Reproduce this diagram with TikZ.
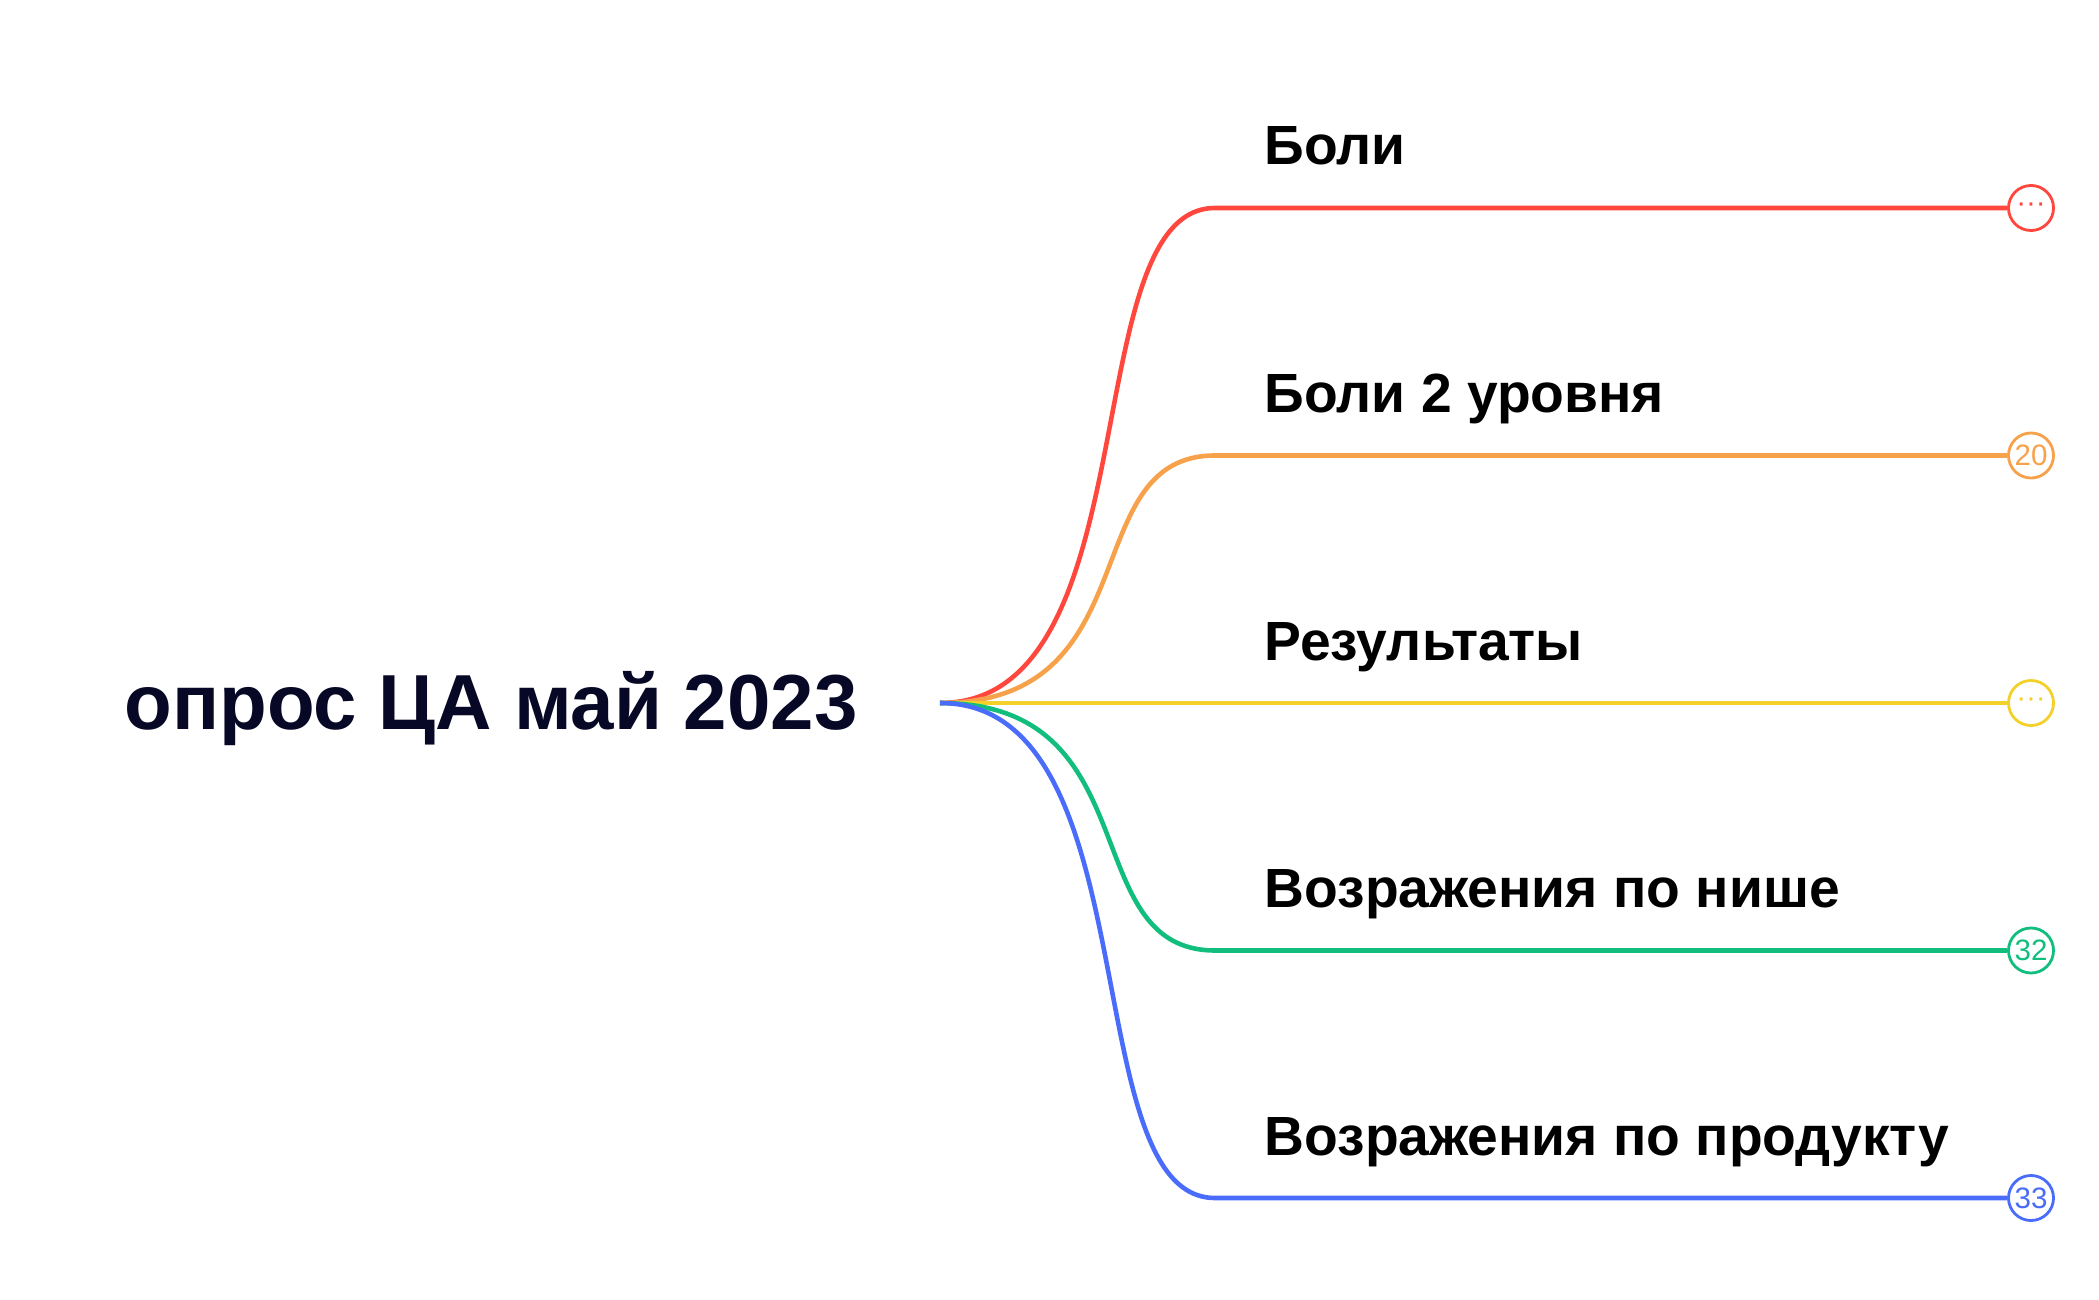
\documentclass[tikz,border=0pt]{standalone}
\usepackage{fontspec}
\setmainfont{Liberation Sans}
\usetikzlibrary{positioning}

\definecolor{mmRed}{HTML}{FF473D}
\definecolor{mmOrange}{HTML}{F7A24B}
\definecolor{mmYellow}{HTML}{F4D12A}
\definecolor{mmGreen}{HTML}{12BE7E}
\definecolor{mmBlue}{HTML}{4A6CFA}
\definecolor{mmNavy}{HTML}{070726}

\tikzset{
  topic/.style={inner sep=0pt, text=mmNavy, font=\fontsize{22.2pt}{26pt}\selectfont\bfseries},
  branch/.style={inner sep=0pt, text=black, font=\fontsize{15.7pt}{19pt}\selectfont\bfseries},
  badge/.style={circle, draw, fill=white, line width=0.8pt, minimum size=0.45cm, inner sep=0pt,
    font=\fontsize{8.4pt}{10pt}\selectfont},
  wire/.style={line width=1.3pt},
}

\begin{document}
\begin{tikzpicture}[x=0.01cm, y=-0.01cm]
				\useasboundingbox (0,0) rectangle (2099,1300);
				\fill[white] (0,0) rectangle (2099,1300);

				% central topic
				\node[topic, anchor=base west] (root) at (124,729) {опрос ЦА май 2023};
				\coordinate (hub) at (940,703);

				% branches
				\foreach \i/\yy/\col/\txt/\num in {
						1/208/mmRed/Боли/···,
						2/455.5/mmOrange/Боли 2 уровня/20,
						3/703/mmYellow/Результаты/···,
						4/950.5/mmGreen/Возражения по нише/32,
						5/1198/mmBlue/Возражения по продукту/33} {
					\coordinate (j\i) at (1215,\yy);
					\node[badge, draw=\col, text=\col] (b\i) at (2031,\yy) {\num};
					\node[branch, anchor=base west] (lab\i) at (1264,\yy-43) {\txt};
					\draw[wire, \col] (hub) to[out=0, in=180, out distance=2.12cm, in distance=1.41cm] (j\i) -- (b\i.west);
				}
			\end{tikzpicture}
\end{document}
